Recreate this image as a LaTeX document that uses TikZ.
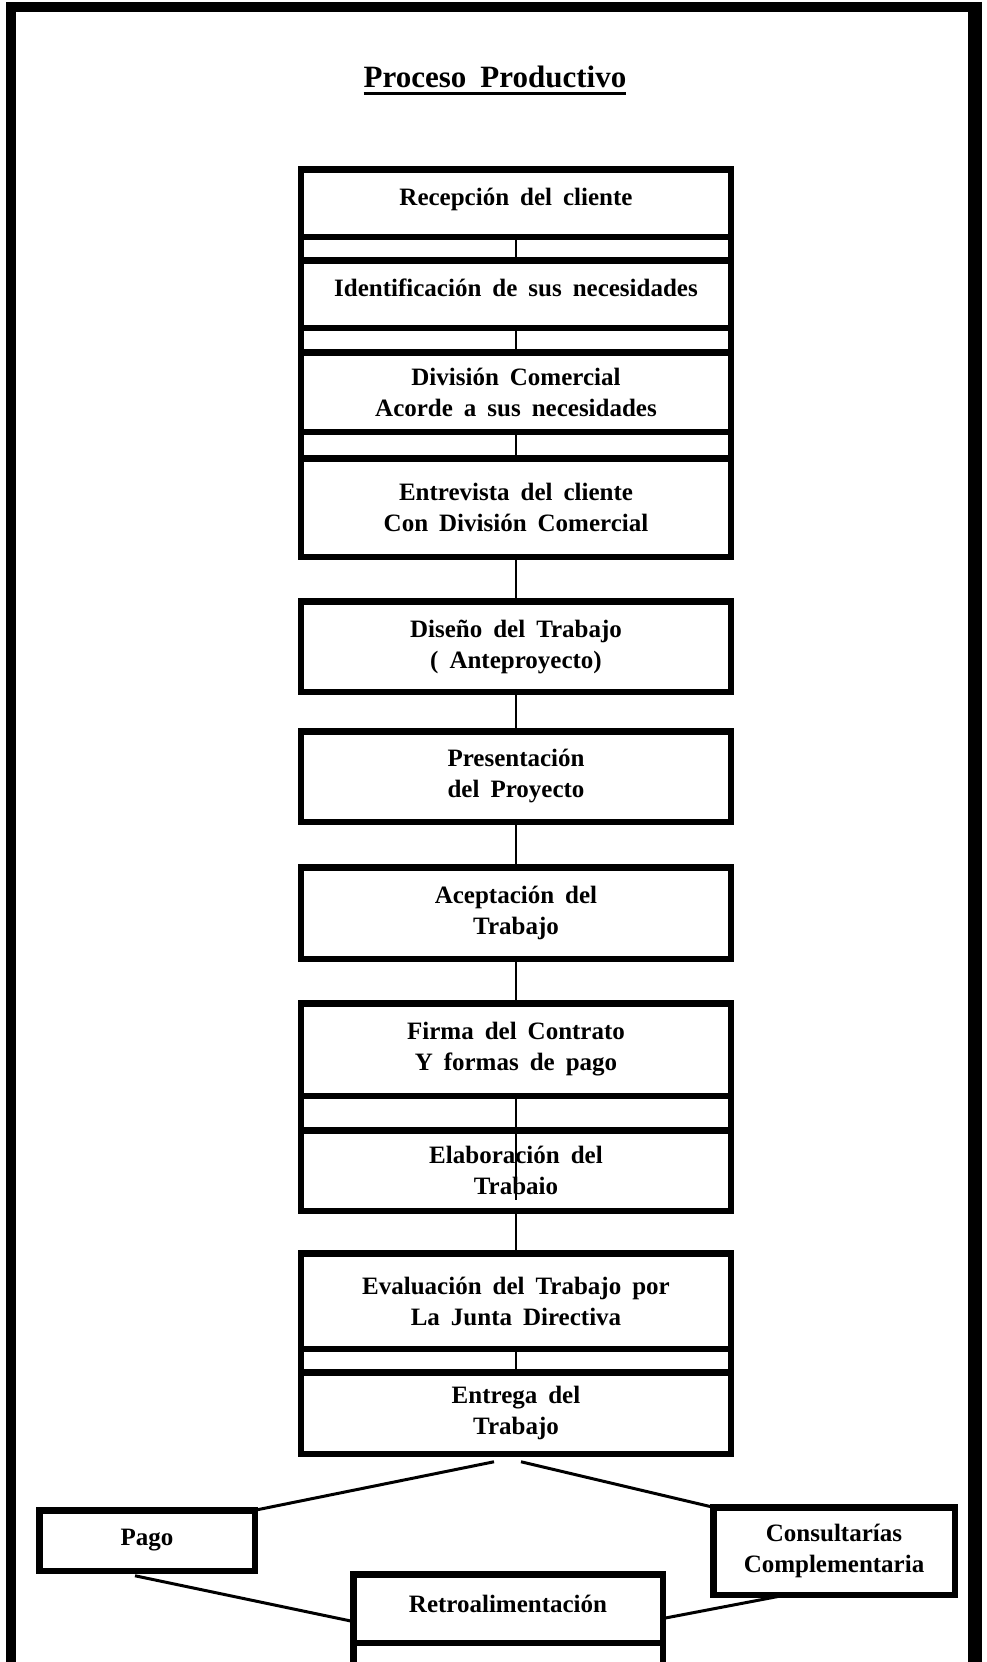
\documentclass[tikz,border=0pt]{standalone}
\usepackage{fontspec}
\setmainfont{Liberation Serif}
\newcommand\letracaja{\bfseries\fontsize{25}{31}\selectfont\spaceskip=11pt\relax}
\newcommand\letratitulo{\bfseries\fontsize{31}{37}\selectfont\spaceskip=14pt\relax}

\begin{document}
\begin{tikzpicture}[x=1pt,y=-1pt,
    caja/.style={draw=black,line width=6.5pt,minimum width=430pt,align=center,inner sep=2pt,outer sep=0pt,font=\letracaja},
    tira/.style={draw=black,line width=6.5pt},
    linea/.style={draw=black,line width=2.5pt},
    diag/.style={draw=black,line width=3pt},
    marco/.style={draw=black,line width=10pt}]
    \useasboundingbox (0,0) rectangle (987,1662);
    \draw[marco] (11,1680) -- (11,7) -- (975,7);
    \draw[marco,line width=14pt] (975,2) -- (975,1680);

    \node[anchor=base,inner sep=0pt,font=\letratitulo] (titulo) at (495,88) {Proceso Productivo};
    \draw[line width=3.5pt] ([yshift=-5.5pt]titulo.base west) -- ([yshift=-5.5pt]titulo.base east);

    \node[caja,minimum height=67.5pt,text depth=12pt] (recepcion) at (516,203) {Recepción del cliente};
    \node[caja,minimum height=67.5pt,text depth=12pt] (identificacion) at (516,294) {Identificación de sus necesidades};
    \node[caja,minimum height=79.5pt] (division) at (516,392) {División Comercial\\Acorde a sus necesidades};
    \node[caja,minimum height=98.5pt] (entrevista) at (516,507.5) {Entrevista del cliente\\Con División Comercial};
    \node[caja,minimum height=90.5pt] (diseno) at (516,646.5) {Diseño del Trabajo\\( Anteproyecto)};
    \node[caja,minimum height=90.5pt] (presentacion) at (516,776.5) {Presentación\\del Proyecto};
    \node[caja,minimum height=91.5pt] (aceptacion) at (516,913) {Aceptación del\\Trabajo};
    \node[caja,minimum height=92.5pt] (firma) at (516,1049.5) {Firma del Contrato\\Y formas de pago};
    \node[caja,minimum height=80.5pt] (elaboracion) at (516,1170.5) {Elaboración del\\Trabaio};
    \node[caja,minimum height=95.5pt] (evaluacion) at (516,1301) {Evaluación del Trabajo por\\La Junta Directiva};
    \node[caja,minimum height=81.5pt] (entrega) at (516,1413) {Entrega del\\Trabajo};

    \node[caja,minimum width=215.5pt,minimum height=60.5pt] (pago) at (147,1540.5) {Pago};
    \node[caja,minimum width=241.5pt,minimum height=87.5pt] (consultarias) at (834,1551) {Consultarías\\Complementaria};
    \node[caja,minimum width=309.5pt,minimum height=68.5pt,text depth=10pt] (retro) at (508,1608.5) {Retroalimentación};

    \draw[tira] (recepcion.south west) -- (identificacion.north west) (recepcion.south east) -- (identificacion.north east);
    \draw[tira] (identificacion.south west) -- (division.north west) (identificacion.south east) -- (division.north east);
    \draw[tira] (division.south west) -- (entrevista.north west) (division.south east) -- (entrevista.north east);
    \draw[tira] (firma.south west) -- (elaboracion.north west) (firma.south east) -- (elaboracion.north east);
    \draw[tira] (evaluacion.south west) -- (entrega.north west) (evaluacion.south east) -- (entrega.north east);
    \draw[tira] (retro.south west) -- ++(0,30) (retro.south east) -- ++(0,30);

    \draw[linea] (recepcion.south) -- (identificacion.north);
    \draw[linea] (identificacion.south) -- (division.north);
    \draw[linea] (division.south) -- (entrevista.north);
    \draw[linea] (entrevista.south) -- (diseno.north);
    \draw[linea] (diseno.south) -- (presentacion.north);
    \draw[linea] (presentacion.south) -- (aceptacion.north);
    \draw[linea] (aceptacion.south) -- (firma.north);
    \draw[linea] (firma.south) -- ([yshift=-70pt]elaboracion.north);
    \draw[linea] (elaboracion.south) -- (evaluacion.north);
    \draw[linea] (evaluacion.south) -- (entrega.north);

    \draw[diag] ([xshift=-22pt,yshift=-8pt]entrega.south) -- (pago.north east);
    \draw[diag] ([xshift=5pt,yshift=-8pt]entrega.south) -- (consultarias.north west);
    \draw[diag] ([xshift=-12pt,yshift=-5pt]pago.south) -- ([yshift=-13pt]retro.west);
    \draw[diag] ([yshift=-10pt]retro.east) -- ([xshift=-47pt]consultarias.south);
\end{tikzpicture}
\end{document}
